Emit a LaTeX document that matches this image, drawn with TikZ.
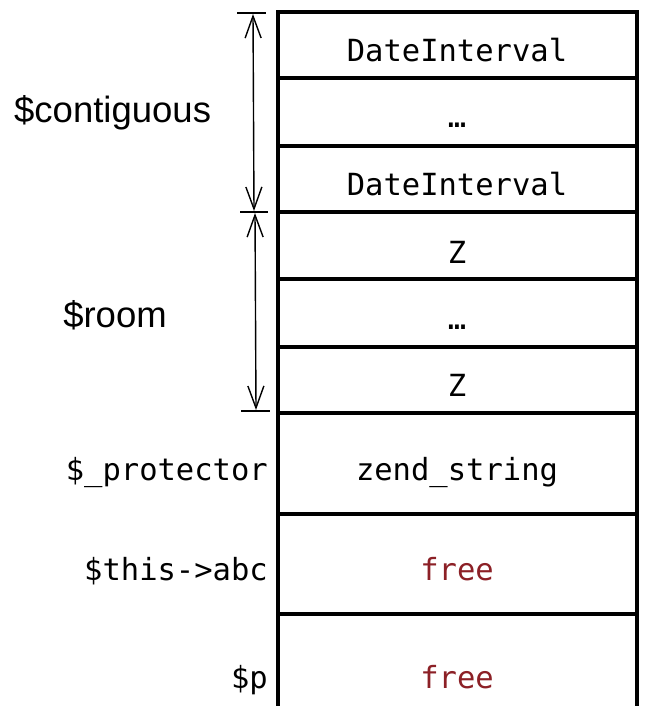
\documentclass[tikz,border=0pt]{standalone}
\usepackage{fontspec}
\setmainfont{Liberation Sans}
\newfontfamily\monofont{DejaVu Sans Mono}
\usetikzlibrary{arrows.meta}
\definecolor{freered}{RGB}{140,32,38}
\tikzset{
  grid/.style={line width=3.6pt},
  cell/.style={font=\monofont\fontsize{30.5}{30.5}\selectfont, anchor=base, inner sep=0pt},
  side/.style={font=\monofont\fontsize{30.5}{30.5}\selectfont, anchor=base east, inner sep=0pt},
  biglabel/.style={font=\fontsize{36.5}{36.5}\selectfont, anchor=base, inner sep=0pt},
  span/.style={line width=1.4pt, {Straight Barb[length=22pt,width=16pt,line width=1.4pt]}-{Straight Barb[length=22pt,width=16pt,line width=1.4pt]}},
  tick/.style={line width=2pt}
}
\begin{document}
\begin{tikzpicture}[x=1pt,y=-1pt]
\useasboundingbox (0,0) rectangle (648,706);
\fill[white] (0,0) rectangle (648,706);
% grid
\draw[grid] (278,706) -- (278,12) -- (637,12) -- (637,706);
\foreach \yy in {78,146,212,279,347,413,514,614}
  \draw[grid] (278,\yy) -- (637,\yy);
% cell texts
\node[cell] (d1) at (457,62) {DateInterval};
\node[cell] (e1) at (457,128) {…};
\node[cell] (d2) at (457,195) {DateInterval};
\node[cell] (z1) at (457,263) {Z};
\node[cell] (e2) at (457,329) {…};
\node[cell] (z2) at (457,396) {Z};
\node[cell] (zs) at (457,480) {zend\_string};
\node[cell, text=freered] (f1) at (457,580) {free};
\node[cell, text=freered] (f2) at (457,688) {free};
% side labels
\node[side] (lp) at (268,480) {\$\_protector};
\node[side] (la) at (268,580) {\$this->abc};
\node[side] (lpp) at (268,688) {\$p};
\node[biglabel, anchor=base west] (lc) at (14,122) {\$contiguous};
\node[biglabel] (lr) at (115,327) {\$room};
% ticks
\coordinate (t1a) at (237,13);  \coordinate (t1b) at (266,13);
\coordinate (t2a) at (240,212); \coordinate (t2b) at (268,212);
\coordinate (t3a) at (241,411); \coordinate (t3b) at (270,411);
\draw[tick] (t1a) -- (t1b);
\draw[tick] (t2a) -- (t2b);
\draw[tick] (t3a) -- (t3b);
% spans
\coordinate (s1a) at (253,14);  \coordinate (s1b) at (254,211);
\coordinate (s2a) at (255,213); \coordinate (s2b) at (256,410);
\draw[span] (s1a) -- (s1b);
\draw[span] (s2a) -- (s2b);
\end{tikzpicture}
\end{document}
